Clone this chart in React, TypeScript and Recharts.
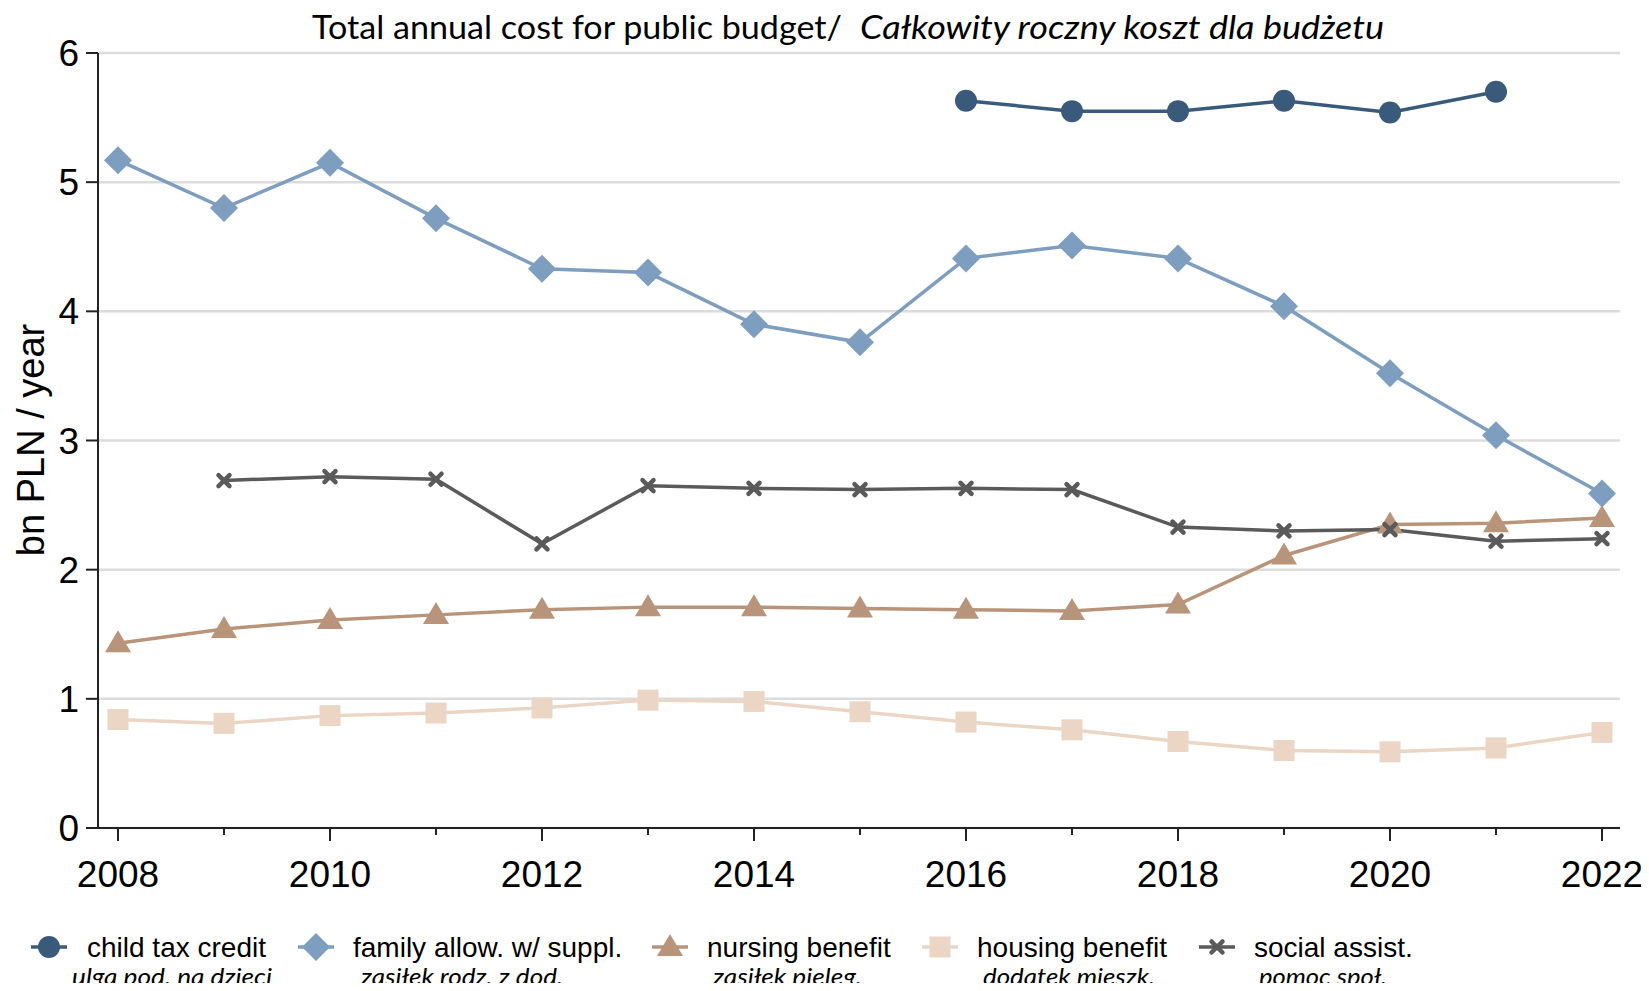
import { LineChart, Line, XAxis, YAxis, CartesianGrid } from "recharts";

const years = [2008, 2009, 2010, 2011, 2012, 2013, 2014, 2015, 2016, 2017, 2018, 2019, 2020, 2021, 2022];
const labelYears = [2008, 2010, 2012, 2014, 2016, 2018, 2020, 2022];
const yTicks = [0, 1, 2, 3, 4, 5, 6];

const childTaxCredit = [null, null, null, null, null, null, null, null, 5.63, 5.55, 5.55, 5.63, 5.54, 5.7, null];
const familyAllow = [5.17, 4.8, 5.15, 4.72, 4.33, 4.3, 3.9, 3.76, 4.41, 4.51, 4.41, 4.04, 3.52, 3.04, 2.59];
const nursingBenefit = [1.43, 1.54, 1.61, 1.65, 1.69, 1.71, 1.71, 1.7, 1.69, 1.68, 1.73, 2.11, 2.35, 2.36, 2.4];
const housingBenefit = [0.84, 0.81, 0.87, 0.89, 0.93, 0.99, 0.98, 0.9, 0.82, 0.76, 0.67, 0.6, 0.59, 0.62, 0.74];
const socialAssist = [null, 2.69, 2.72, 2.7, 2.2, 2.65, 2.63, 2.62, 2.63, 2.62, 2.33, 2.3, 2.31, 2.22, 2.24];

const seriesKeys = ["child", "family", "nursing", "housing", "social"];
const seriesNames = ["child tax credit", "family allow. w/ suppl.", "nursing benefit", "housing benefit", "social assist."];
const seriesSubs = ["ulga pod. na dzieci", "zasiłek rodz. z dod.", "zasiłek pielęg.", "dodatek mieszk.", "pomoc społ."];
const seriesColors = ["#3a5a7c", "#7e9ec0", "#b8957a", "#ebd5c4", "#5a5a5a"];
const seriesShapes = ["circle", "diamond", "triangle", "square", "cross"];

const data = years.map((year, i) => ({
  year,
  child: childTaxCredit[i],
  family: familyAllow[i],
  nursing: nursingBenefit[i],
  housing: housingBenefit[i],
  social: socialAssist[i],
}));

const W = 1641;
const H = 975;
const ARIAL = "'Liberation Sans', Arial, sans-serif";
const CALI = "Lato, 'Open Sans', sans-serif";

function Marker({ shape, color, cx, cy }: { shape: string; color: string; cx: number; cy: number }) {
  if (shape === "circle") return <circle cx={cx} cy={cy} r={11} fill={color} />;
  if (shape === "diamond")
    return <polygon points={`${cx},${cy - 14} ${cx + 14},${cy} ${cx},${cy + 14} ${cx - 14},${cy}`} fill={color} />;
  if (shape === "triangle")
    return <polygon points={`${cx},${cy - 13} ${cx + 13},${cy + 9} ${cx - 13},${cy + 9}`} fill={color} />;
  if (shape === "square") return <rect x={cx - 10.5} y={cy - 10.5} width={21} height={21} fill={color} />;
  return (
    <g stroke={color} strokeWidth={4.5} strokeLinecap="round">
      <line x1={cx - 5.5} y1={cy - 5.5} x2={cx + 5.5} y2={cy + 5.5} />
      <line x1={cx - 5.5} y1={cy + 5.5} x2={cx + 5.5} y2={cy - 5.5} />
    </g>
  );
}

const makeDot = (shape: string, color: string) => (props: any) => {
  const { cx, cy, index, value } = props;
  if (cx == null || cy == null || value == null || Number.isNaN(cy)) return <g key={`d-${index}`} />;
  return (
    <g key={`d-${index}`}>
      <Marker shape={shape} color={color} cx={cx} cy={cy} />
    </g>
  );
};

const XTick = (props: any) => {
  const { x, y, payload } = props;
  const major = labelYears.includes(payload.value);
  return (
    <g>
      <line x1={x} x2={x} y1={y} y2={y + (major ? 13 : 7)} stroke="#222" strokeWidth={2} />
      {major && (
        <text x={x} y={y + 59} textAnchor="middle" fontSize={37} fontFamily={ARIAL} fill="#000">
          {payload.value}
        </text>
      )}
    </g>
  );
};

export default function App() {
  const legendMarkerX = [41, 308, 662, 932, 1209];
  const legendTextX = [79, 345, 699, 969, 1246];
  const legendSubX = [64, 353, 705, 975, 1251];
  const legendSubW = [200, 202, 149, 172, 128];

  return (
    <div style={{ position: "relative", width: W, height: H }}>
      <LineChart width={W} height={H} data={data} margin={{ top: 45, right: 29, bottom: 0, left: 0 }}>
        <CartesianGrid vertical={false} stroke="#dcdcdc" strokeWidth={2.5} />
        <XAxis
          dataKey="year"
          type="number"
          domain={[2008, 2022]}
          ticks={years}
          padding={{ left: 20, right: 18 }}
          height={155}
          tickSize={0}
          tickMargin={0}
          tickLine={false}
          axisLine={{ stroke: "#222", strokeWidth: 2 }}
          tick={<XTick />}
          interval={0}
        />
        <YAxis
          domain={[0, 6]}
          ticks={yTicks}
          width={90}
          tickSize={12}
          tickMargin={7}
          axisLine={{ stroke: "#222", strokeWidth: 2 }}
          tickLine={{ stroke: "#222", strokeWidth: 2 }}
          tick={{ fontSize: 37, fontFamily: ARIAL, fill: "#000" }}
          interval={0}
        />
        {seriesKeys.map((k, i) => (
          <Line
            key={k}
            dataKey={k}
            type="linear"
            stroke={seriesColors[i]}
            strokeWidth={3.5}
            dot={makeDot(seriesShapes[i], seriesColors[i])}
            activeDot={false}
            connectNulls={false}
            isAnimationActive={false}
          />
        ))}
      </LineChart>
      <svg
        width={W}
        height={H}
        style={{ position: "absolute", left: 0, top: 0, overflow: "visible", pointerEvents: "none" }}
      >
        <text x={304} y={31} fontSize={33} fontFamily={CALI} fill="#000" textLength={530} lengthAdjust="spacingAndGlyphs">
          Total annual cost for public budget/
        </text>
        <text
          x={852}
          y={31}
          fontSize={33}
          fontFamily={CALI}
          fontStyle="italic"
          fill="#000"
          textLength={524}
          lengthAdjust="spacingAndGlyphs"
        >
          Całkowity roczny koszt dla budżetu
        </text>
        <text
          x={23}
          y={432}
          transform="rotate(-90 23 432)"
          textAnchor="middle"
          dominantBaseline="central"
          fontSize={38}
          fontFamily={ARIAL}
          fill="#000"
        >
          bn PLN / year
        </text>
        {seriesKeys.map((k, i) => (
          <g key={k}>
            <line
              x1={legendMarkerX[i] - 18}
              x2={legendMarkerX[i] + 18}
              y1={939}
              y2={939}
              stroke={seriesColors[i]}
              strokeWidth={3.5}
            />
            <Marker shape={seriesShapes[i]} color={seriesColors[i]} cx={legendMarkerX[i]} cy={939} />
            <text x={legendTextX[i]} y={949} fontSize={28} fontFamily={ARIAL} fill="#000">
              {seriesNames[i]}
            </text>
            <text
              x={legendSubX[i]}
              y={977}
              fontSize={23}
              fontFamily={CALI}
              fontStyle="italic"
              fill="#000"
              textLength={legendSubW[i]}
              lengthAdjust="spacingAndGlyphs"
            >
              {seriesSubs[i]}
            </text>
          </g>
        ))}
      </svg>
    </div>
  );
}
